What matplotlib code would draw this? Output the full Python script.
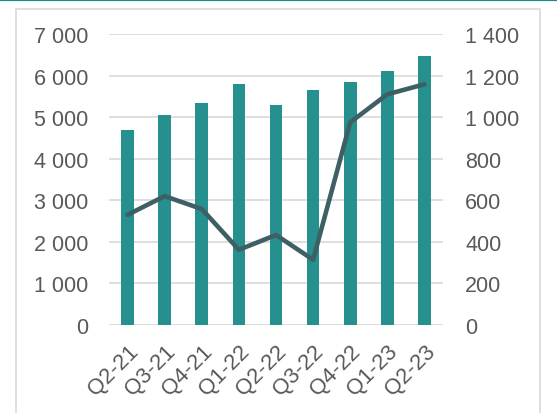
import matplotlib
matplotlib.use("Agg")
import matplotlib.pyplot as plt
from matplotlib.patches import Rectangle
from matplotlib.lines import Line2D
from matplotlib.ticker import FuncFormatter

# data
quarters = ["Q2-21", "Q3-21", "Q4-21", "Q1-22", "Q2-22", "Q3-22", "Q4-22", "Q1-23", "Q2-23"]
bar_values = [4680, 5040, 5350, 5790, 5300, 5660, 5850, 6100, 6460]
line_values = [530, 620, 558, 362, 433, 314, 975, 1110, 1158]

BAR_COLOR = "#26908F"
LINE_COLOR = "#3E6064"
TEXT_COLOR = "#595959"
GRID_COLOR = "#D9D9D9"

plt.rcParams['font.family'] = ['Liberation Sans', 'DejaVu Sans']


def space_thousands(v, pos=None):
    return f"{int(round(v)):,}".replace(",", " ")


fig = plt.figure(figsize=(5.57, 4.14), dpi=100)
W, H = 557, 414

# frame around the chart and the teal strip on top
fig.patches.append(Rectangle((16 / W, -0.1), (540 - 16) / W, 1.1 - 10 / H,
                             transform=fig.transFigure, fill=False,
                             edgecolor=GRID_COLOR, linewidth=1.2))
fig.lines.append(Line2D([0, 1], [1 - 1 / H, 1 - 1 / H], transform=fig.transFigure,
                        color="#1F8C8C", linewidth=1.6))

ax = fig.add_axes([109 / W, 1 - 326 / H, (443 - 109) / W, (326 - 35) / H])
x = list(range(len(quarters)))
ax.bar(x, bar_values, width=0.34, color=BAR_COLOR, zorder=2)
ax.set_ylim(0, 7000)
ax.set_yticks(range(0, 7001, 1000))
ax.yaxis.set_major_formatter(FuncFormatter(space_thousands))
ax.set_xlim(-0.5, len(quarters) - 0.5)
ax.set_xticks(x)
ax.set_xticklabels(quarters, rotation=45, ha="right", rotation_mode="anchor")
ax.grid(axis="y", color=GRID_COLOR, linewidth=1.2)
ax.set_axisbelow(True)

ax2 = ax.twinx()
ax2.plot(x, line_values, color=LINE_COLOR, linewidth=3.3, solid_capstyle="round")
ax2.set_ylim(0, 1400)
ax2.set_yticks(range(0, 1401, 200))
ax2.yaxis.set_major_formatter(FuncFormatter(space_thousands))

for a in (ax, ax2):
    for s in a.spines.values():
        s.set_visible(False)
ax.tick_params(axis="y", length=0, pad=15, labelsize=15.5, labelcolor=TEXT_COLOR)
ax.tick_params(axis="x", length=0, pad=11, labelsize=16, labelcolor=TEXT_COLOR)
ax2.tick_params(axis="y", length=0, pad=16, labelsize=15.5, labelcolor=TEXT_COLOR)

fig.savefig("out.png", dpi=100)
